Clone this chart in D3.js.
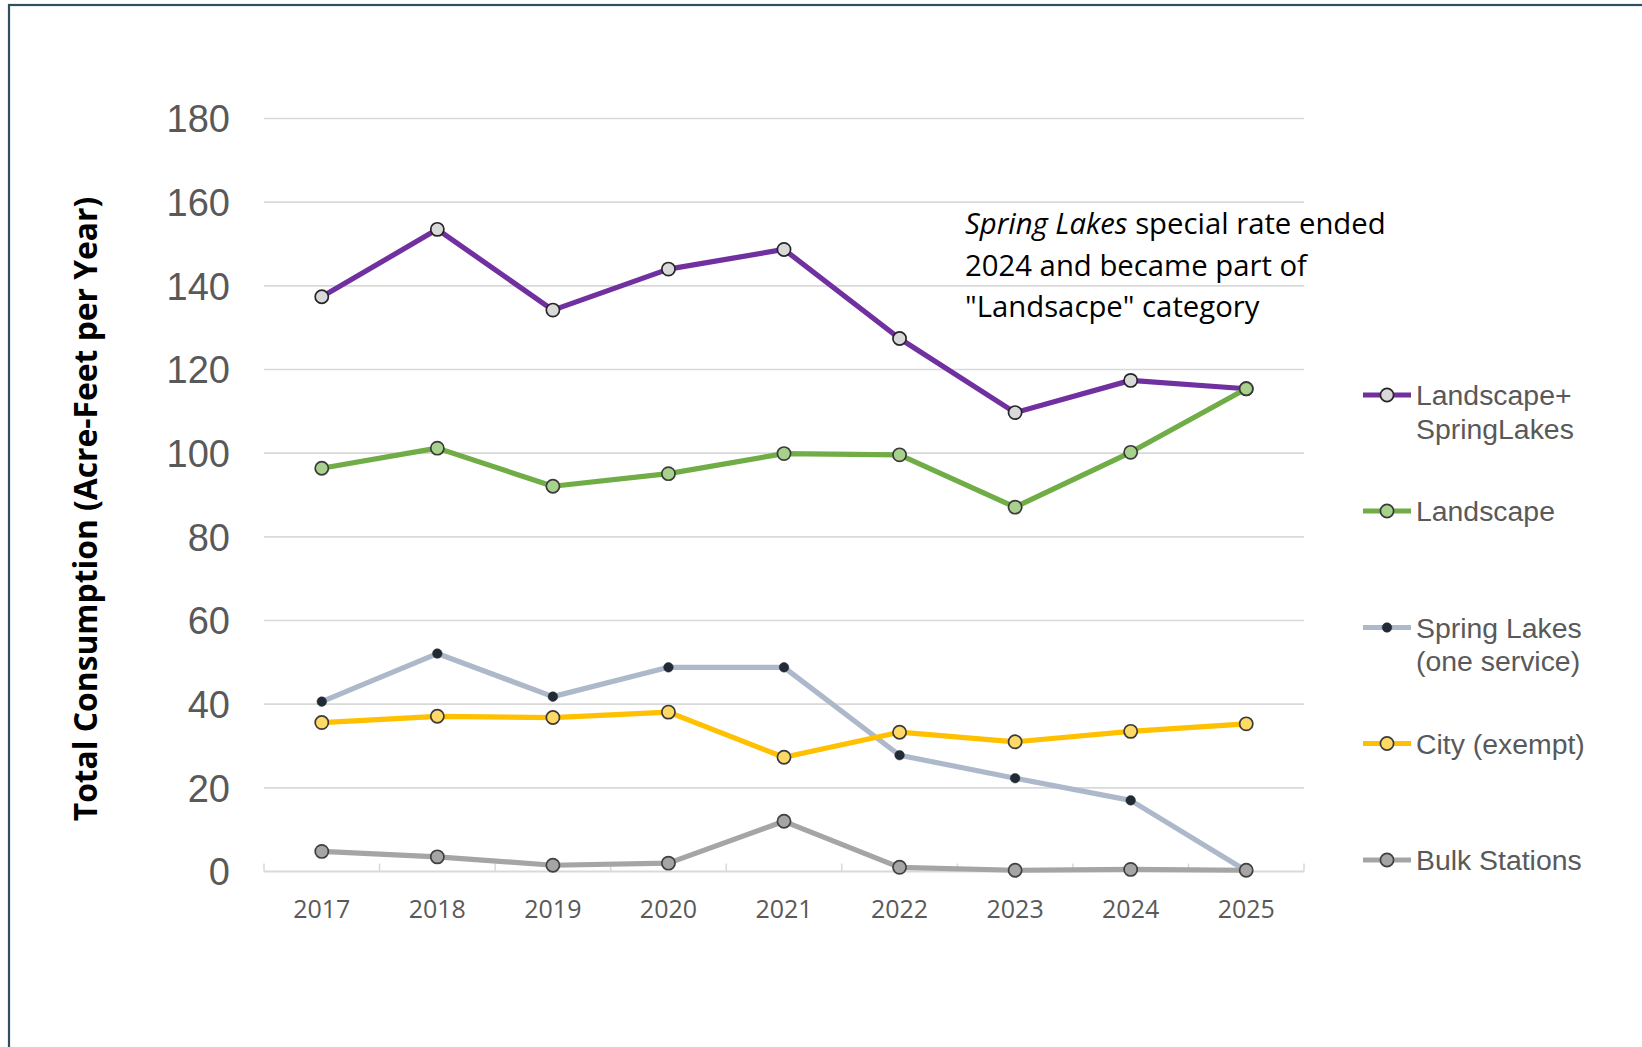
<!DOCTYPE html>
<html>
<head>
<meta charset="utf-8">
<script src="https://cdn.jsdelivr.net/npm/d3@7"></script>
<style>
  html, body { margin: 0; padding: 0; background: #ffffff; }
  svg { display: block; }
</style>
</head>
<body>
<svg id="chart" width="1642" height="1047"></svg>
<script>
// ---- data ----
const years = ["2017","2018","2019","2020","2021","2022","2023","2024","2025"];
const yTicks = [0, 20, 40, 60, 80, 100, 120, 140, 160, 180];
const landscapePlusSpringLakes = [137.4, 153.5, 134.2, 144.0, 148.7, 127.4, 109.7, 117.4, 115.4];
const landscape               = [96.4, 101.2, 92.1, 95.1, 99.9, 99.6, 87.1, 100.2, 115.4];
const springLakes             = [40.6, 52.1, 41.8, 48.8, 48.8, 27.8, 22.3, 17.0, 0.2];
const cityExempt              = [35.6, 37.1, 36.8, 38.1, 27.3, 33.3, 31.0, 33.5, 35.3];
const bulkStations            = [4.8, 3.5, 1.5, 2.0, 12.0, 1.0, 0.3, 0.5, 0.3];
const seriesNames = [["Landscape+", "SpringLakes"], ["Landscape"], ["Spring Lakes", "(one service)"], ["City (exempt)"], ["Bulk Stations"]];
const yTitle = "Total Consumption (Acre-Feet per Year)";
const noteLines = [[["Spring Lakes", true], [" special rate ended", false]], [["2024 and became part of", false]], [["\"Landsacpe\" category", false]]];

// ---- styles ----
const styles = [
  { line: "#7030A0", fill: "#D9D9D9", stroke: "#262626", r: 6.6, sw: 1.7 },
  { line: "#70AD47", fill: "#A9D18E", stroke: "#3A3A3A", r: 6.6, sw: 1.7 },
  { line: "#ADB9CA", fill: "#222A35", stroke: "#222A35", r: 4.8, sw: 0.5 },
  { line: "#FFC000", fill: "#FFD966", stroke: "#3A3A3A", r: 6.6, sw: 1.7 },
  { line: "#A5A5A5", fill: "#A5A5A5", stroke: "#404040", r: 6.6, sw: 1.7 }
];
const allSeries = [landscapePlusSpringLakes, landscape, springLakes, cityExempt, bulkStations];
const drawOrder = [0, 1, 2, 3, 4];

const svg = d3.select("#chart");

// border
svg.append("rect").attr("x", 9).attr("y", 5).attr("width", 1700).attr("height", 1100)
  .attr("fill", "none").attr("stroke", "#2F5060").attr("stroke-width", 2.2);

const x = d3.scalePoint().domain(years).range([264, 1304]).padding(0.5);
const y = d3.scaleLinear().domain([0, 180]).range([871.5, 118.5]);

// gridlines
svg.append("g").selectAll("line").data(yTicks.filter(t => t > 0)).join("line")
  .attr("x1", 264).attr("x2", 1304)
  .attr("y1", d => y(d)).attr("y2", d => y(d))
  .attr("stroke", "#D9D9D9").attr("stroke-width", 1.6);

// x baseline + tick marks between categories
const xAxis = svg.append("g").attr("transform", `translate(0,${y(0)})`);
xAxis.append("line").attr("x1", 264).attr("x2", 1304).attr("y1", 0).attr("y2", 0)
  .attr("stroke", "#D9D9D9").attr("stroke-width", 1.8);
const step = x.step();
xAxis.selectAll("line.tk").data(d3.range(years.length + 1)).join("line").attr("class", "tk")
  .attr("x1", i => 264 + i * step).attr("x2", i => 264 + i * step)
  .attr("y1", 0).attr("y2", -8)
  .attr("stroke", "#D9D9D9").attr("stroke-width", 1.5);
xAxis.selectAll("text").data(years).join("text")
  .attr("x", d => x(d)).attr("y", 46)
  .attr("text-anchor", "middle")
  .attr("font-family", "'Open Sans', sans-serif").attr("font-size", 25)
  .attr("fill", "#595959").text(d => d);

// y labels
svg.append("g").selectAll("text").data(yTicks).join("text")
  .attr("x", 230).attr("y", d => y(d)).attr("dy", "0.36em")
  .attr("text-anchor", "end")
  .attr("font-family", "'Liberation Sans', Arial, sans-serif").attr("font-size", 38)
  .attr("fill", "#595959").text(d => d);

// y title
svg.append("text")
  .attr("transform", `translate(97,509) rotate(-90)`)
  .attr("text-anchor", "middle")
  .attr("font-family", "'Open Sans', sans-serif").attr("font-weight", "bold").attr("font-size", 31.8)
  .attr("fill", "#000000").text(yTitle);

// lines & markers
const lineGen = d3.line().x((d, i) => x(years[i])).y(d => y(d));
drawOrder.forEach(si => {
  const st = styles[si];
  const g = svg.append("g");
  g.append("path").datum(allSeries[si]).attr("d", lineGen)
    .attr("fill", "none").attr("stroke", st.line).attr("stroke-width", 5.2)
    .attr("stroke-linejoin", "round").attr("stroke-linecap", "round");
  g.selectAll("circle").data(allSeries[si]).join("circle")
    .attr("cx", (d, i) => x(years[i])).attr("cy", d => y(d)).attr("r", st.r)
    .attr("fill", st.fill).attr("stroke", st.stroke).attr("stroke-width", st.sw);
});

// annotation
const note = svg.append("text")
  .attr("font-family", "'Open Sans', sans-serif").attr("font-size", 29.3).attr("fill", "#000000");
noteLines.forEach((ln, li) => {
  ln.forEach((seg, si) => {
    const ts = note.append("tspan").text(seg[0]).attr("font-style", seg[1] ? "italic" : "normal");
    if (si === 0) ts.attr("x", 965).attr("y", 234 + li * 41.5);
  });
});

// legend
const legendY = [395, 511, 627.5, 743.5, 860];
const legend = svg.append("g");
seriesNames.forEach((names, i) => {
  const st = styles[i];
  const gy = legendY[i];
  legend.append("line").attr("x1", 1363).attr("x2", 1411).attr("y1", gy).attr("y2", gy)
    .attr("stroke", st.line).attr("stroke-width", 5);
  legend.append("circle").attr("cx", 1387).attr("cy", gy).attr("r", st.r)
    .attr("fill", st.fill).attr("stroke", st.stroke).attr("stroke-width", st.sw);
  names.forEach((nm, k) => {
    legend.append("text").attr("x", 1416).attr("y", gy + k * 33.5).attr("dy", "0.36em")
      .attr("font-family", "'Liberation Sans', Arial, sans-serif").attr("font-size", 28.4)
      .attr("fill", "#595959").text(nm);
  });
});
</script>
</body>
</html>
